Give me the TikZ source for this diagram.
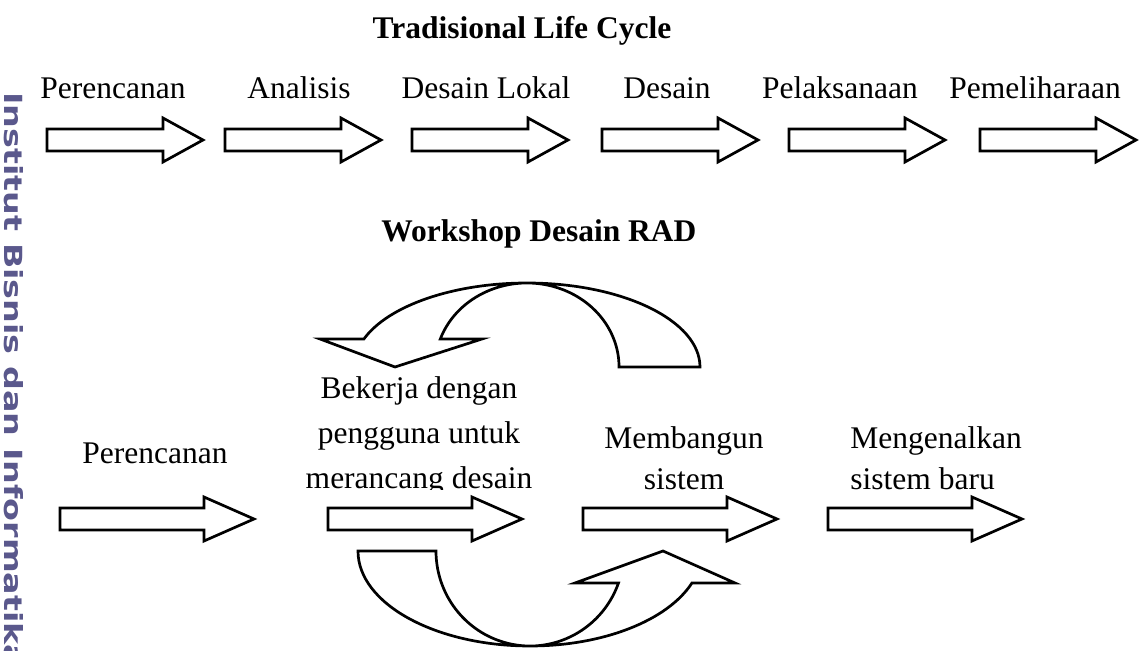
\documentclass[tikz,border=0pt]{standalone}
\usepackage{fontspec}
\setmainfont{Liberation Serif}
\newfontfamily\wmfont{DejaVu Sans}
\definecolor{wmcolor}{RGB}{90,88,140}

\tikzset{
  lbl/.style={font=\fontsize{15.75}{22}\selectfont, inner sep=0pt, anchor=base},
  ttl/.style={lbl, font=\fontsize{15.75}{22}\selectfont\bfseries},
  shape line/.style={draw=black, line width=1.35pt, fill=white, line join=miter},
  % straight block arrows (reference point = middle of the tail end)
  pics/toparrow/.style={code={
    \draw[shape line] (0,-11) -- (116,-11) -- (116,-22) -- (156,0)
      -- (116,22) -- (116,11) -- (0,11) -- cycle;}},
  pics/botarrow/.style={code={
    \draw[shape line] (0,-11) -- (144,-11) -- (144,-22) -- (194,0)
      -- (144,22) -- (144,11) -- (0,11) -- cycle;}},
}

\begin{document}
\begin{tikzpicture}[x=0.5pt,y=-0.5pt]
\useasboundingbox (0,0) rectangle (1141,651);

% vertical watermark along the left edge
\node[rotate=-90, anchor=north west, inner sep=0pt, text=wmcolor] (wm) at (24,92)
  {\resizebox{287.5pt}{9.5pt}{\wmfont\bfseries Institut Bisnis dan Informatika}};

% ---------- traditional life cycle ----------
\node[ttl] (t1) at (522,39) {Tradisional Life Cycle};

\node[lbl] (p1) at (113,99) {Perencanan};
\node[lbl] (p2) at (299,99) {Analisis};
\node[lbl] (p3) at (486,99) {Desain Lokal};
\node[lbl] (p4) at (667,99) {Desain};
\node[lbl] (p5) at (840,99) {Pelaksanaan};
\node[lbl] (p6) at (1035,99) {Pemeliharaan};

\pic at (47,140) {toparrow};
\pic at (225,140) {toparrow};
\pic at (412,140) {toparrow};
\pic at (602,140) {toparrow};
\pic at (789,140) {toparrow};
\pic at (980,140) {toparrow};

% ---------- RAD workshop ----------
\node[ttl] (t2) at (539,242) {Workshop Desain RAD};

% curved arrow above, bending back to the left
\draw[shape line] (700,367)
  arc[start angle=360, end angle=199.47, x radius=173, y radius=84]
  -- (320,339) -- (395,367) -- (482,339) -- (440.3,339)
  arc[start angle=199.47, end angle=360, x radius=92, y radius=84]
  -- cycle;

\node[lbl] (r1) at (155,464) {Perencanan};
\begin{scope}
  \clip (250,360) rectangle (600,490);
  \node[lbl] (r2a) at (419,399) {Bekerja dengan};
  \node[lbl] (r2b) at (419,444) {pengguna untuk};
  \node[lbl] (r2c) at (419,489) {merancang desain};
\end{scope}
\node[lbl] (r3a) at (684,449) {Membangun};
\node[lbl] (r3b) at (684,490) {sistem};
\node[lbl, anchor=base west] (r4a) at (850,449) {Mengenalkan};
\node[lbl, anchor=base west] (r4b) at (850,490) {sistem baru};

\pic at (60,519) {botarrow};
\pic at (328,519) {botarrow};
\pic at (583,519) {botarrow};
\pic at (828,519) {botarrow};

% curved arrow below, bending forward to the right
\draw[shape line] (358,551)
  arc[start angle=180, end angle=19.68, x radius=172, y radius=95]
  -- (735,583) -- (663,551) -- (575,583) -- (618.5,583)
  arc[start angle=19.68, end angle=180, x radius=94, y radius=95]
  -- cycle;

\end{tikzpicture}
\end{document}
